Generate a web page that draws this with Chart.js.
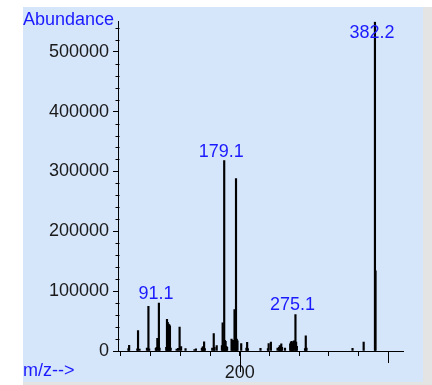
<!DOCTYPE html>
<html>
<head>
<meta charset="utf-8">
<script src="https://cdn.jsdelivr.net/npm/chart.js@4.4.1/dist/chart.umd.min.js"></script>
<style>
  html, body { margin: 0; padding: 0; background: #fff; width: 432px; height: 385px; overflow: hidden; }
  #frame { position: absolute; left: 23px; top: 7px; width: 409px; height: 378px; background: #e4e4e4; }
  #panel { position: absolute; left: 0; top: 0; width: 400px; height: 375px; background: #d5e5fa; }
  #panel canvas { position: absolute; left: 0; top: 0; }
  .tag { position: absolute; font: 18px "Liberation Sans", Arial, sans-serif; color: #1a1aff; line-height: 1; white-space: nowrap; }
  #yTitle { left: 0; top: 3px; }
  #xTitle { left: 0; top: 354px; }
</style>
</head>
<body>
<div id="frame">
  <div id="panel">
    <canvas id="spec" width="400" height="375"></canvas>
    <span class="tag" id="yTitle">Abundance</span>
    <span class="tag" id="xTitle">m/z--&gt;</span>
  </div>
</div>
<script>
// Mass spectrum: m/z of each ion and its abundance
const mzValues = [
  50, 51, 62, 63, 65, 75, 77, 78, 87, 88, 89, 91.1, 92,
  101, 102, 103, 104, 105, 106, 107, 115, 117, 119, 121, 127, 139, 141,
  149, 150, 151, 152, 153, 163, 165, 166, 169, 176, 177, 178, 179.1, 180,
  181, 182, 183, 189, 190, 191, 193, 194, 195, 196, 197, 202, 209, 210, 211,
  228, 238, 239, 242, 251, 253, 254, 255, 256, 257, 261,
  268, 269, 270, 271, 272, 273, 275.1, 276, 277, 288, 289, 290,
  352, 367, 382.2, 383
];
const abundances = [
  4000, 9500, 3500, 34000, 3000, 5000, 74500, 3500, 4500, 6000, 21000, 80000, 5000,
  6000, 53000, 48000, 45000, 44000, 42000, 5000, 3000, 4500, 40000, 7500, 4000, 2500, 3500,
  4500, 6500, 7500, 15500, 4000, 5000, 29000, 6000, 9000, 9000, 47000, 12000, 318000, 18000,
  16000, 8000, 6000, 20000, 7000, 18000, 69000, 12000, 288000, 20000, 17000, 12500, 5000, 14500, 4000,
  4500, 4000, 12500, 15000, 5000, 6000, 9000, 7000, 12000, 6000, 5000,
  12000, 15000, 16000, 14000, 13000, 17000, 61000, 15000, 8000, 4000, 25500, 5000,
  4500, 15000, 550000, 134000
];
// Ions annotated with their m/z
const labelledPeaks = [91.1, 179.1, 275.1, 382.2];

// Axis ranges and ticks
const xRange = [36, 420];
const xTickValues = [40, 80, 120, 160, 200, 240, 280, 320, 360, 400];
const xTickLabels = [200];
const xLongMarks = [[200, 21], [400, 12]];
const yMax = 550000;
const yTickValues = [0, 100000, 200000, 300000, 400000, 500000];
const yMinorStep = 20000;

const tickFont = { family: '"Liberation Sans", Arial, sans-serif', size: 18 };

// Minor marks on the abundance axis and the longer marks on the m/z axis
const axisMarks = {
  id: 'axisMarks',
  afterDraw(chart) {
    const { ctx, scales: { x, y } } = chart;
    ctx.save();
    ctx.strokeStyle = '#000';
    ctx.lineWidth = 1;
    ctx.beginPath();
    const ax = Math.round(x.left) - 0.5;
    for (let v = yMinorStep; v <= y.max; v += yMinorStep) {
      if (yTickValues.includes(v)) continue;
      const py = Math.round(y.getPixelForValue(v)) + 0.5;
      ctx.moveTo(ax - 2, py);
      ctx.lineTo(ax + 2, py);
    }
    xLongMarks.forEach(([v, len]) => {
      const px = Math.round(x.getPixelForValue(v)) + 0.5;
      ctx.moveTo(px, y.bottom);
      ctx.lineTo(px, y.bottom + len);
    });
    ctx.stroke();
    ctx.restore();
  }
};

// m/z annotations above the labelled ions
const peakLabels = {
  id: 'peakLabels',
  afterDatasetsDraw(chart) {
    const { ctx, chartArea, scales: { x, y } } = chart;
    ctx.save();
    ctx.font = '18px "Liberation Sans", Arial, sans-serif';
    ctx.fillStyle = '#1a1aff';
    ctx.textAlign = 'center';
    ctx.textBaseline = 'alphabetic';
    labelledPeaks.forEach(mz => {
      const i = mzValues.indexOf(mz);
      const px = x.getPixelForValue(mz) - 3;
      const base = Math.max(y.getPixelForValue(abundances[i]) - 4, chartArea.top + 16);
      ctx.fillText(mz.toFixed(1), px, base);
    });
    ctx.restore();
  }
};

new Chart(document.getElementById('spec'), {
  type: 'bar',
  data: {
    datasets: [{
      data: mzValues.map((mz, i) => ({ x: mz, y: abundances[i] })),
      backgroundColor: '#000',
      borderWidth: 0,
      barThickness: 1.5
    }]
  },
  options: {
    responsive: false,
    animation: false,
    layout: { padding: { top: 5, right: 20, left: 0, bottom: 0 } },
    plugins: { legend: { display: false }, tooltip: { enabled: false } },
    scales: {
      x: {
        type: 'linear',
        min: xRange[0],
        max: xRange[1],
        offset: false,
        afterFit(s) { s.height = 31; },
        afterBuildTicks(s) { s.ticks = xTickValues.map(v => ({ value: v })); },
        grid: { display: true, drawOnChartArea: false, offset: false, tickLength: 5, tickColor: '#000', color: '#000' },
        border: { display: true, color: '#000', width: 1 },
        ticks: {
          autoSkip: false,
          maxRotation: 0,
          padding: 6,
          color: '#1a1a1a',
          font: tickFont,
          callback: v => (xTickLabels.includes(v) ? String(v) : '')
        }
      },
      y: {
        min: 0,
        max: yMax,
        afterFit(s) { s.width = 95; },
        afterBuildTicks(s) { s.ticks = yTickValues.map(v => ({ value: v })); },
        grid: { display: true, drawOnChartArea: false, tickLength: 5, tickColor: '#000', color: '#000' },
        border: { display: true, color: '#000', width: 1 },
        ticks: {
          autoSkip: false,
          padding: 4,
          color: '#1a1a1a',
          font: tickFont,
          callback: v => String(v)
        }
      }
    }
  },
  plugins: [axisMarks, peakLabels]
});
</script>
</body>
</html>
